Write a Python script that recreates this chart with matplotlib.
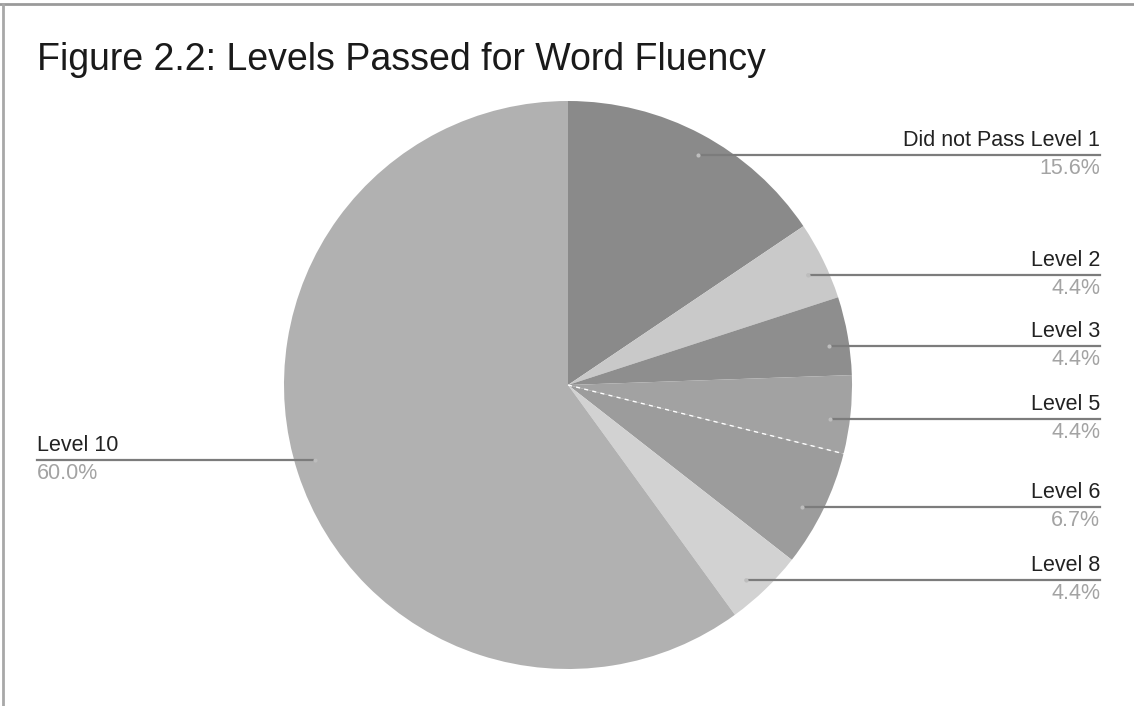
import numpy as np
import matplotlib.pyplot as plt

plt.rcParams["font.family"] = ["Liberation Sans", "DejaVu Sans"]

# learners per highest level passed (45 in total)
levels = ["Did not Pass Level 1", "Level 2", "Level 3", "Level 5",
          "Level 6", "Level 8", "Level 10"]
counts = [7, 2, 2, 2, 3, 2, 27]
shares = [15.6, 4.4, 4.4, 4.4, 6.7, 4.4, 60.0]
colors = ["#8a8a8a", "#c9c9c9", "#8e8e8e", "#a2a2a2",
          "#9c9c9c", "#d2d2d2", "#b1b1b1"]

W, H = 1134, 706
fig = plt.figure(figsize=(W / 100, H / 100), dpi=100)
ax = fig.add_axes([0, 0, 1, 1])

cx, cy, r = 568, H - 385, 284
wedges, _ = ax.pie(counts, colors=colors, startangle=90, counterclock=False,
                   center=(cx, cy), radius=r, frame=True,
                   wedgeprops=dict(linewidth=0))
ax.set_xlim(0, W)
ax.set_ylim(0, H)
ax.set_aspect("equal")
ax.axis("off")

# dashed white seam between Level 5 and Level 6
seam = np.deg2rad(wedges[3].theta1)
ax.plot([cx, cx + r * np.cos(seam)], [cy, cy + r * np.sin(seam)],
        color="white", lw=1, ls=(0, (3, 3)), zorder=3)

# leader lines with label above and share below
for w, name, pct in zip(wedges, levels, shares):
    mid = np.deg2rad((w.theta1 + w.theta2) / 2 - 1.5)
    px = cx + 0.93 * r * np.cos(mid)
    py = cy + 0.93 * r * np.sin(mid)
    if np.cos(mid) >= 0:
        xe, ha = 1100, "right"
    else:
        xe, ha = 37, "left"
    ax.plot([px, xe], [py, py], color="#7c7c7c", lw=1.6, zorder=4)
    ax.plot(px, py, "o", ms=3, color="#bdbdbd", mec="none", zorder=5)
    ax.text(xe, py + 4, name, ha=ha, va="bottom", fontsize=15.5,
            color="#222222")
    ax.text(xe, py - 3, f"{pct:.1f}%", ha=ha, va="top", fontsize=15.5,
            color="#a3a3a3")

ax.text(37, H - 60, "Figure 2.2: Levels Passed for Word Fluency",
        ha="left", va="center", fontsize=27, color="#1a1a1a")

# chart frame
ax.plot([0, W], [H - 4, H - 4], color="#9a9a9a", lw=2, clip_on=False)
ax.plot([3, 3], [0, H - 4], color="#a8a8a8", lw=2, clip_on=False)

fig.savefig("out.png", dpi=100, facecolor="white")
